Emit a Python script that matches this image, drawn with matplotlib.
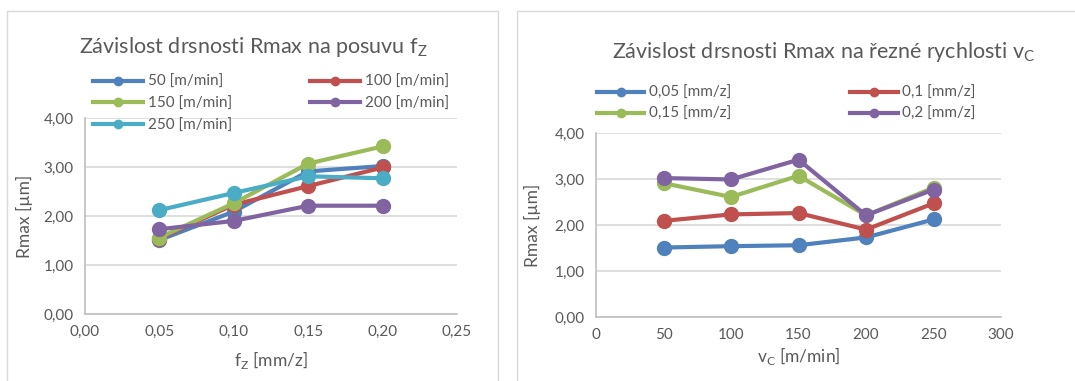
import matplotlib
matplotlib.use("Agg")
import matplotlib.pyplot as plt
from matplotlib.patches import Rectangle
from matplotlib.ticker import FuncFormatter, MultipleLocator

plt.rcParams["font.family"] = ["Lato", "DejaVu Sans"]
plt.rcParams["mathtext.fontset"] = "custom"
plt.rcParams["mathtext.rm"] = "Lato"

# cutting speeds [m/min] and feeds [mm/z]
vc = [50, 100, 150, 200, 250]
fz = [0.05, 0.10, 0.15, 0.20]

# Rmax [um] per feed, over the cutting speeds
rmax_f005 = [1.51, 1.54, 1.56, 1.73, 2.12]
rmax_f010 = [2.09, 2.23, 2.26, 1.90, 2.47]
rmax_f015 = [2.91, 2.61, 3.07, 2.21, 2.81]
rmax_f020 = [3.02, 2.99, 3.42, 2.21, 2.77]

feed_labels = ["0,05 [mm/z]", "0,1 [mm/z]", "0,15 [mm/z]", "0,2 [mm/z]"]
speed_labels = ["50 [m/min]", "100 [m/min]", "150 [m/min]", "200 [m/min]", "250 [m/min]"]

colors = ["#4F81BD", "#C0504D", "#9BBB59", "#8064A2", "#4BACC6"]
grid_c = "#D9D9D9"
text_c = "#595959"

by_feed = [rmax_f005, rmax_f010, rmax_f015, rmax_f020]
# the same table seen per cutting speed
by_speed = [[row[i] for row in by_feed] for i in range(len(vc))]

fig = plt.figure(figsize=(10.75, 3.81), dpi=100)
W, H = 1075, 381

# chart frames like in Excel
for x0, x1 in [(7, 498), (517, 1080)]:
    fig.patches.append(Rectangle((x0 / W, -0.05), (x1 - x0) / W, 1 - 11 / H + 0.05,
                                 transform=fig.transFigure, fill=False,
                                 edgecolor=grid_c, linewidth=1.0))

comma2 = FuncFormatter(lambda v, p: f"{v:.2f}".replace(".", ","))
comma0 = FuncFormatter(lambda v, p: f"{v:.0f}")


def style_axes(ax):
    ax.grid(axis="y", color=grid_c, linewidth=1.2)
    ax.set_axisbelow(True)
    for s in ["top", "right"]:
        ax.spines[s].set_visible(False)
    for s in ["left", "bottom"]:
        ax.spines[s].set_color("#BFBFBF")
        ax.spines[s].set_linewidth(1.2)
    ax.tick_params(length=0, labelsize=11, colors=text_c, pad=8)
    ax.set_ylim(0, 4)
    ax.yaxis.set_major_locator(MultipleLocator(1))
    ax.yaxis.set_major_formatter(comma2)
    ax.set_ylabel("Rmax [µm]", fontsize=12.5, color=text_c)


# left chart: Rmax vs feed
ax1 = fig.add_axes([85 / W, 1 - 314 / H, (457 - 85) / W, (314 - 118) / H])
style_axes(ax1)
lines1 = []
for i, ys in enumerate(by_speed):
    ln, = ax1.plot(fz, ys, color=colors[i], linewidth=3, marker="o", markersize=10,
                   label=speed_labels[i])
    lines1.append(ln)
ax1.set_xlim(0, 0.25)
ax1.xaxis.set_major_locator(MultipleLocator(0.05))
ax1.xaxis.set_major_formatter(comma2)
ax1.set_xlabel(r"f$_\mathregular{Z}$ [mm/z]", fontsize=12.5, color=text_c, labelpad=7)
ax1.yaxis.set_label_coords(-0.14, 0.5)
fig.text(253 / W, 1 - 47 / H, r"Závislost drsnosti Rmax na posuvu f$_\mathregular{Z}$",
         ha="center", va="center", fontsize=15.5, color=text_c)
order1 = [0, 2, 4, 1, 3]
fig.legend([lines1[i] for i in order1], [speed_labels[i] for i in order1],
           ncol=2, loc="upper left", bbox_to_anchor=(93 / W, 1 - 75 / H),
           frameon=False, fontsize=11, labelcolor=text_c, markerscale=0.6,
           handlelength=3.3, handletextpad=0.3, columnspacing=5.1,
           labelspacing=0.5, borderaxespad=0, borderpad=0)

# right chart: Rmax vs cutting speed
ax2 = fig.add_axes([596 / W, 1 - 317 / H, (1001 - 596) / W, (317 - 133) / H])
style_axes(ax2)
lines2 = []
for i, ys in enumerate(by_feed):
    ln, = ax2.plot(vc, ys, color=colors[i], linewidth=3, marker="o", markersize=10,
                   label=feed_labels[i])
    lines2.append(ln)
ax2.set_xlim(0, 300)
ax2.xaxis.set_major_locator(MultipleLocator(50))
ax2.xaxis.set_major_formatter(comma0)
ax2.set_xlabel(r"v$_\mathregular{C}$ [m/min]", fontsize=12.5, color=text_c, labelpad=2)
ax2.yaxis.set_label_coords(-0.135, 0.5)
fig.text(824 / W, 1 - 52 / H, r"Závislost drsnosti Rmax na řezné rychlosti v$_\mathregular{C}$",
         ha="center", va="center", fontsize=15.5, color=text_c)
order2 = [0, 2, 1, 3]
fig.legend([lines2[i] for i in order2], [feed_labels[i] for i in order2],
           ncol=2, loc="upper left", bbox_to_anchor=(597 / W, 1 - 86 / H),
           frameon=False, fontsize=11, labelcolor=text_c, markerscale=0.6,
           handlelength=3.1, handletextpad=0.3, columnspacing=7.8,
           labelspacing=0.45, borderaxespad=0, borderpad=0)

fig.savefig("out.png", dpi=100)
